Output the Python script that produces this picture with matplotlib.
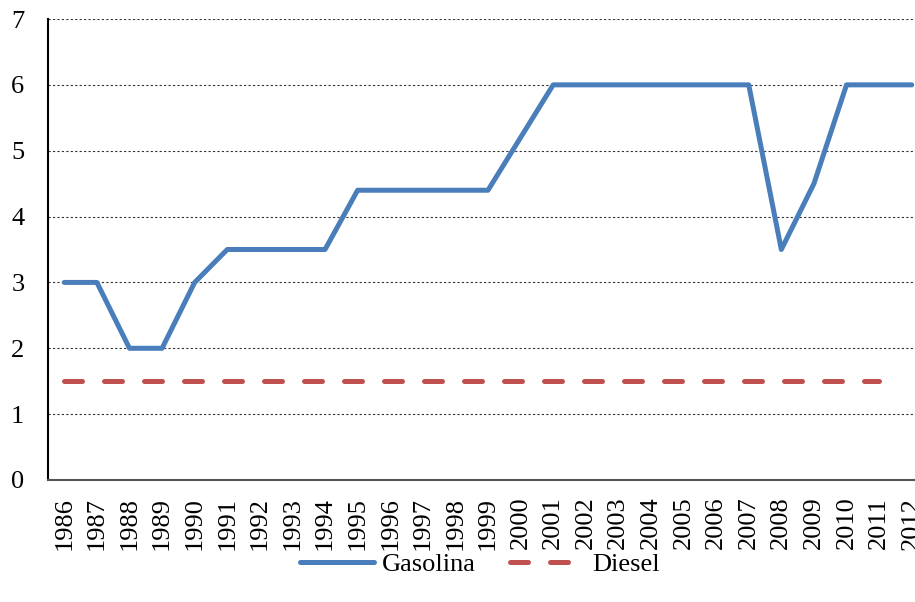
import numpy as np
import matplotlib
matplotlib.use("Agg")
import matplotlib.pyplot as plt

plt.rcParams['font.family'] = ['Liberation Serif', 'DejaVu Serif']

years = list(range(1986, 2013))
gasolina = [3, 3, 2, 2, 3, 3.5, 3.5, 3.5, 3.5, 4.4, 4.4, 4.4, 4.4, 4.4,
            5.2, 6, 6, 6, 6, 6, 6, 6, 3.5, 4.5, 6, 6, 6]
diesel = [1.5] * 26  # 1986-2011

fig = plt.figure(figsize=(9.15, 6.02), dpi=100)
ax = fig.add_axes([48 / 915, 1 - 480 / 602, 880 / 915, 461 / 602])

x = np.arange(len(years))
ax.plot(x, gasolina, color='#4a7ebb', linewidth=3.6, solid_capstyle='round',
        solid_joinstyle='round', label='Gasolina', zorder=3)
ax.plot(x[:len(diesel)], diesel, color='#c0504d', linewidth=3.6,
        dashes=(3.6, 4.4), dash_capstyle='round', label='Diesel', zorder=3)

ax.set_xlim(-0.5, 26.5)
ax.set_ylim(0, 7)
ax.set_yticks(range(0, 8))
ax.set_xticks(x)
ax.set_xticklabels([str(y) for y in years], rotation=90, fontsize=19)
ax.tick_params(axis='y', labelsize=19, length=0, pad=17)
ax.tick_params(axis='x', length=0, pad=12)

ax.yaxis.grid(True, linestyle=(0, (2, 2)), color='#333333', linewidth=0.8)
ax.set_axisbelow(True)
for s in ['top', 'right']:
    ax.spines[s].set_visible(False)
ax.spines['left'].set_linewidth(1.5)
ax.spines['left'].set_color('black')
ax.spines['bottom'].set_linewidth(1.5)
ax.spines['bottom'].set_color('#555555')

fig.legend(loc='center', bbox_to_anchor=(480 / 915, 1 - 564 / 602), ncol=2,
           frameon=False, fontsize=19, handlelength=2.8, columnspacing=1.3,
           handletextpad=0.3)

fig.savefig('out.png', dpi=100)
